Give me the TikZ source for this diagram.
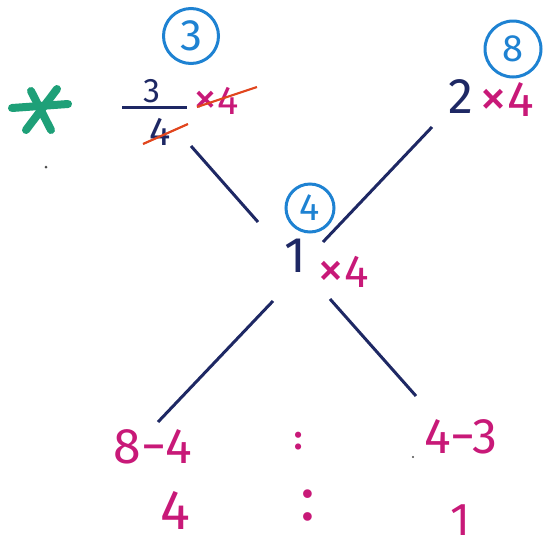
\documentclass[tikz,border=0pt]{standalone}
\usepackage{fontspec}
\setmainfont{Fira Sans}
\definecolor{navy}{RGB}{30,40,100}
\definecolor{mag}{RGB}{200,25,120}
\definecolor{cblue}{RGB}{30,130,210}
\definecolor{grn}{RGB}{30,160,120}
\definecolor{strike}{RGB}{225,70,30}
\newcommand{\bigx}{{\fontsize{56}{56}\selectfont ×}}
\begin{document}
\begin{tikzpicture}[x=1pt,y=-1pt,
  big/.style={font=\fontsize{50}{56}\selectfont,inner sep=0pt},
  dk/.style={big,text=navy},
  mg/.style={big,text=mag},
  bluecirc/.style={draw=cblue,line width=3pt,shape=circle,text=cblue,inner sep=0pt},
  conn/.style={draw=navy,line width=3pt},
  strk/.style={draw=strike,line width=2.2pt},
  starln/.style={draw=grn,line width=8pt,line cap=round}]
\useasboundingbox (0,0) rectangle (555,550);
% star
\draw[starln] (12,108) -- (68,104);
\draw[starln] (31,91) -- (51,130);
\draw[starln] (57,89) -- (26,130);
\fill[black!70] (46,167) circle (1.5pt);
% top-left
\node[bluecirc,minimum size=55pt,font=\fontsize{44}{48}\selectfont] (c3) at (191,36) {3};
\node[dk,font=\fontsize{34}{40}\selectfont] (n3) at (152,91) {3};
\draw[navy,line width=3pt] (122,107) -- (187,107);
\node[dk,font=\fontsize{40}{46}\selectfont] (d4) at (160,132) {4};
\node[mg,font=\fontsize{40}{46}\selectfont] (x4a) at (216,101) {{\fontsize{48}{48}\selectfont ×}4};
\draw[strk] (143,144) -- (188,124);
\draw[strk] (197,107) -- (257,87);
\coordinate (tl) at (191,146);
% center
\node[bluecirc,minimum size=48pt,font=\fontsize{38}{42}\selectfont] (c4) at (310,208) {4};
\node[dk] (one) at (295,256) {1};
\node[mg,font=\fontsize{46}{50}\selectfont] (x4c) at (343,272) {{\fontsize{54}{54}\selectfont ×}4};
% top-right
\node[bluecirc,minimum size=56pt,font=\fontsize{38}{42}\selectfont] (c8) at (513,49) {8};
\node[dk] (two) at (461,97) {2};
\node[mg] (x4b) at (507,100) {\bigx4};
\coordinate (tr) at (432,127);
% connectors
\coordinate (ctl) at (258,222);
\coordinate (ctr) at (323,242);
\coordinate (cbl) at (273,301);
\coordinate (cbr) at (330,299);
\coordinate (bl) at (158,422);
\coordinate (br) at (416,396);
\draw[conn] (tl) -- (ctl);
\draw[conn] (tr) -- (ctr);
\draw[conn] (cbl) -- (bl);
\draw[conn] (cbr) -- (br);
% bottom
\node[mg] (a1) at (153,447) {8−4};
\node[mg,font=\fontsize{34}{38}\selectfont\bfseries] (col1) at (299,441) {:};
\node[mg] (b1) at (461,437) {4−3};
\fill[black!70] (413,457) circle (1.2pt);
\node[mg,font=\fontsize{56}{60}\selectfont] (a2) at (175,510) {4};
\node[mg,font=\fontsize{62}{66}\selectfont] (col2) at (308,506) {:};
\node[mg,font=\fontsize{46}{50}\selectfont] (b2) at (460,520) {1};
\end{tikzpicture}
\end{document}
